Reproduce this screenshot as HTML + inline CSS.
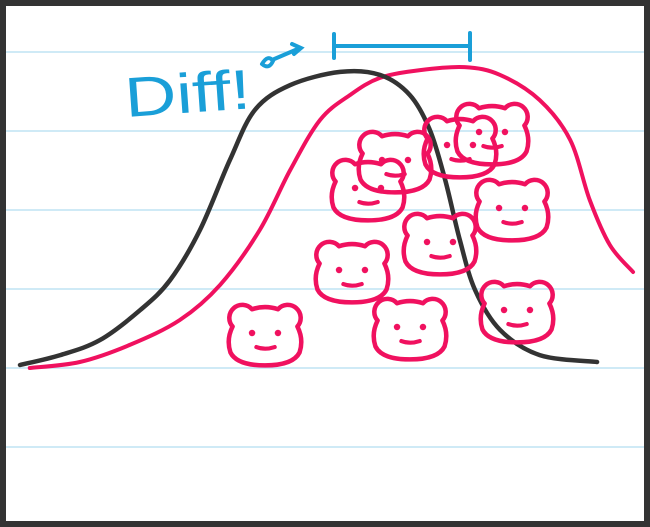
<!DOCTYPE html>
<html><head><meta charset="utf-8"><style>
html,body{margin:0;padding:0;background:#fff;}
svg{display:block;}
</style></head><body>
<svg id="chart" width="650" height="527" viewBox="0 0 650 527">
<rect x="0" y="0" width="650" height="527" fill="#fff"/>
<g id="rules"></g>
<g id="series"></g>
<g id="bears"></g>
<g stroke="#1a9fd8" stroke-width="4" fill="none" stroke-linecap="round">
  <text x="126" y="117" font-family="Liberation Sans, sans-serif" font-size="56" textLength="126" lengthAdjust="spacingAndGlyphs" fill="#1a9fd8" stroke="none" transform="rotate(-4 126 117)">Diff!</text>
  <path d="M262 64 q6 -10 11 -3 q-4 9 -11 3 M272 60 L300 48 M292 44 L301 48 L294 54"/>
  <path d="M334 34 L334 58 M334 46 L470 46 M470 33 L470 60"/>
</g>
<rect x="3" y="3" width="644" height="521" fill="none" stroke="#333" stroke-width="6"/>
</svg>
<script>
const ruleLevels = [52, 131, 210, 289, 368, 447];
const blackX = [0, 6.6, 13.1, 19.7, 24.6, 29.5, 34.4, 38.5, 44.3, 52.5, 59.0, 63.9, 67.2, 69.7, 72.1, 74.6, 78.7, 85.2, 94.6];
const blackY = [1, 4.3, 9.3, 19.3, 29.3, 46, 69.3, 86, 94.3, 98.7, 97.7, 91, 79.3, 62.7, 42.7, 26, 12.7, 4.3, 2];
const pinkX = [1.6, 9.8, 18.0, 26.2, 32.8, 39.3, 44.3, 49.2, 54.1, 59.0, 65.6, 72.9, 78.7, 85.2, 90.2, 93.4, 96.7, 100.5];
const pinkY = [0, 2, 7.7, 16, 27.7, 46, 66, 82.7, 91, 96.7, 99.3, 100.3, 97.7, 89.3, 76, 56, 41, 32];
const bearCX = [265, 352, 410, 440, 368, 395, 460, 492, 512, 517];
const bearCY = [333, 270, 327, 242, 188, 160, 145, 132, 208, 310];

const NS = 'http://www.w3.org/2000/svg';
const xScale = v => 20 + v * 6.1;
const yScale = v => 368 - v * 3;

const rules = document.getElementById('rules');
ruleLevels.forEach(y => {
  const l = document.createElementNS(NS, 'line');
  l.setAttribute('x1', 6); l.setAttribute('x2', 644);
  l.setAttribute('y1', y); l.setAttribute('y2', y);
  l.setAttribute('stroke', '#bfe3f3'); l.setAttribute('stroke-width', 1.5);
  
  
  rules.appendChild(l);
});

function smoothPath(xs, ys) {
  const p = xs.map((x, i) => [xScale(x), yScale(ys[i])]);
  let d = 'M' + p[0][0] + ' ' + p[0][1];
  for (let i = 0; i < p.length - 1; i++) {
    const p0 = p[i - 1] || p[i], p1 = p[i], p2 = p[i + 1], p3 = p[i + 2] || p2;
    const c1 = [p1[0] + (p2[0] - p0[0]) / 6, p1[1] + (p2[1] - p0[1]) / 6];
    const c2 = [p2[0] - (p3[0] - p1[0]) / 6, p2[1] - (p3[1] - p1[1]) / 6];
    d += ' C' + c1.join(' ') + ' ' + c2.join(' ') + ' ' + p2.join(' ');
  }
  return d;
}

const bearsG = document.getElementById('bears');
bearCX.forEach((cx, i) => {
  const g = document.createElementNS(NS, 'g');
  g.setAttribute('transform', 'translate(' + cx + ' ' + bearCY[i] + ') scale(1.08)');
  
  
  g.innerHTML =
    '<path d="M-30 -6 A11 11 0 1 1 -12 -22 Q0 -26 12 -22 A11 11 0 1 1 30 -6 Q36 6 32 18 Q26 30 0 30 Q-26 30 -32 18 Q-36 6 -30 -6 Z" fill="none" stroke="#f0115f" stroke-width="4.2" stroke-linejoin="round"/>' +
    '<circle cx="-12" cy="0" r="3" fill="#f0115f"/><circle cx="12" cy="0" r="3" fill="#f0115f"/>' +
    '<path d="M-8 13 Q0 16 9 13" fill="none" stroke="#f0115f" stroke-width="3.8" stroke-linecap="round"/>';
  bearsG.appendChild(g);
});

const series = document.getElementById('series');
const pink = document.createElementNS(NS, 'path');
pink.setAttribute('d', smoothPath(pinkX, pinkY));
pink.setAttribute('fill', 'none'); pink.setAttribute('stroke', '#f0115f');
pink.setAttribute('stroke-width', 4); pink.setAttribute('stroke-linecap', 'round');


series.appendChild(pink);
const black = document.createElementNS(NS, 'path');
black.setAttribute('d', smoothPath(blackX, blackY));
black.setAttribute('fill', 'none'); black.setAttribute('stroke', '#333');
black.setAttribute('stroke-width', 4.5); black.setAttribute('stroke-linecap', 'round');


series.appendChild(black);
</script>
</body></html>
